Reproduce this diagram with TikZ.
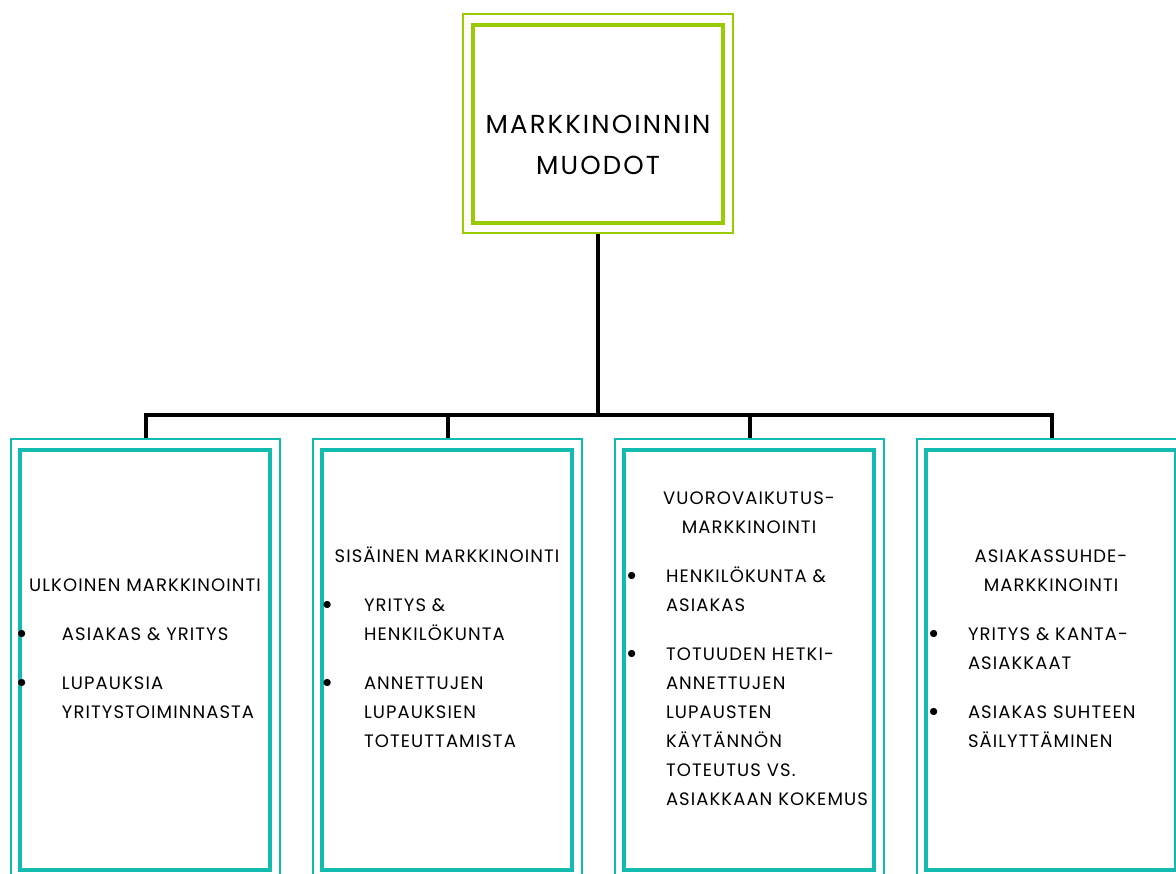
\documentclass[tikz,border=0pt]{standalone}
\usepackage{fontspec}
\setmainfont{Poppins}
\newfontfamily\formfont{Poppins}[LetterSpace=6]
\newfontfamily\titlefont{Poppins}[LetterSpace=8]
\usepackage{array}
\usetikzlibrary{positioning,calc}
\definecolor{framegreen}{RGB}{153, 204, 0}
\definecolor{frameteal}{RGB}{18, 186, 176}
\newcommand{\dotmark}{\raisebox{1pt}{$\bullet$}}

\begin{document}
\begin{tikzpicture}[
    x=0.5pt, y=-0.5pt,
    topframe/.style={rectangle, draw=framegreen, line width=1pt, minimum width=135pt, minimum height=109.5pt},
    topbox/.style={rectangle, draw=framegreen, line width=2pt, minimum width=125pt, minimum height=99pt},
    formframe/.style={rectangle, draw=frameteal, line width=1pt, minimum width=134.5pt, minimum height=221pt},
    formbox/.style={rectangle, draw=frameteal, line width=2pt, minimum width=125pt, minimum height=210pt},
    formtext/.style={inner sep=0pt, font=\formfont\fontsize{9}{14.5}\selectfont},
    link/.style={draw=black, line width=2pt}
]
\useasboundingbox (0,0) rectangle (1176,873);

% Main heading
\node[topframe] (mainframe) at (598,123.5) {};
\node[topbox] (main) at (598,124) {};
\node[font=\titlefont\fontsize{13}{20.5}\selectfont, align=center] (title) at (598,145) {MARKKINOINNIN\\MUODOT};

% Frames of the four forms
\node[formframe] (f1) at (145.5,660) {};
\node[formbox] (b1) at (145,660) {};
\node[formframe] (f2) at (447.5,660) {};
\node[formbox] (b2) at (447,660) {};
\node[formframe] (f3) at (749.5,660) {};
\node[formbox] (b3) at (749,660) {};
\node[formframe] (f4) at (1051.5,660) {};
\node[formbox] (b4) at (1051,660) {};

% Texts of the four forms
\node[formtext] (t1) at (145,649) {\begin{tabular}{@{}w{l}{19.5pt}@{}w{l}{102.5pt}@{}}
  \multicolumn{2}{c}{ULKOINEN MARKKINOINTI}\\[10pt]
  \dotmark & ASIAKAS \& YRITYS\\[10pt]
  \dotmark & LUPAUKSIA\\
   & YRITYSTOIMINNASTA
\end{tabular}};
\node[formtext] (t2) at (447,649) {\begin{tabular}{@{}w{l}{19.5pt}@{}w{l}{102.5pt}@{}}
  \multicolumn{2}{c}{SISÄINEN MARKKINOINTI}\\[10pt]
  \dotmark & YRITYS \&\\
   & HENKILÖKUNTA\\[10pt]
  \dotmark & ANNETTUJEN\\
   & LUPAUKSIEN\\
   & TOTEUTTAMISTA
\end{tabular}};
\node[formtext] (t3) at (749,649) {\begin{tabular}{@{}w{l}{19.5pt}@{}w{l}{102.5pt}@{}}
  \multicolumn{2}{c}{VUOROVAIKUTUS-}\\
  \multicolumn{2}{c}{MARKKINOINTI}\\[10pt]
  \dotmark & HENKILÖKUNTA \&\\
   & ASIAKAS\\[10pt]
  \dotmark & TOTUUDEN HETKI-\\
   & ANNETTUJEN\\
   & LUPAUSTEN\\
   & KÄYTÄNNÖN\\
   & TOTEUTUS VS.\\
   & ASIAKKAAN KOKEMUS
\end{tabular}};
\node[formtext] (t4) at (1051,649) {\begin{tabular}{@{}w{l}{19.5pt}@{}w{l}{102.5pt}@{}}
  \multicolumn{2}{c}{ASIAKASSUHDE-}\\
  \multicolumn{2}{c}{MARKKINOINTI}\\[10pt]
  \dotmark & YRITYS \& KANTA-\\
   & ASIAKKAAT\\[10pt]
  \dotmark & ASIAKAS SUHTEEN\\
   & SÄILYTTÄMINEN
\end{tabular}};

% Tree connectors
\coordinate (bus) at (598,415);
\draw[link] (mainframe.south) -- (bus);
\draw[link] (bus) -| (f1.north);
\draw[link] (bus) -| (f2.north);
\draw[link] (bus) -| (f3.north);
\draw[link] (bus) -| (f4.north);

\end{tikzpicture}
\end{document}
